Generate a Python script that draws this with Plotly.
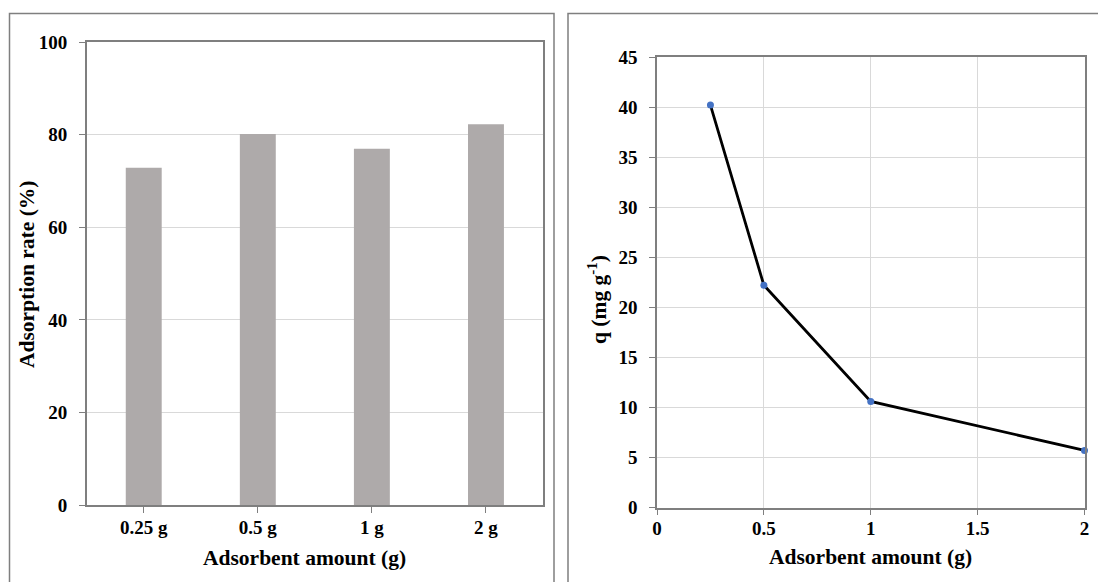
import plotly.graph_objects as go

# Adsorption rate per adsorbent dose (bar panel)
dose_labels = ["0.25 g", "0.5 g", "1 g", "2 g"]
adsorption_rate = [72.9, 80.2, 77.0, 82.3]

# Adsorption capacity q vs adsorbent amount (line panel)
amount_g = [0.25, 0.5, 1.0, 2.0]
q_mg_g = [40.2, 22.2, 10.6, 5.7]

W, H = 1098, 582
FONT = "Times New Roman, Liberation Serif, serif"
AXIS_COLOR = "#7f7f7f"
GRID_COLOR = "#d9d9d9"


def px(x):
    return x / W


def py(y):
    return 1 - y / H


fig = go.Figure()

fig.add_trace(go.Bar(
    x=dose_labels, y=adsorption_rate,
    marker=dict(color="#aeaaaa", line=dict(width=0)),
    xaxis="x", yaxis="y", showlegend=False,
))

fig.add_trace(go.Scatter(
    x=amount_g, y=q_mg_g, mode="lines+markers",
    line=dict(color="black", width=2.8),
    marker=dict(color="#4472c4", size=7),
    xaxis="x2", yaxis="y2", showlegend=False, cliponaxis=False,
))

tick_font = dict(family=FONT, size=19, color="black", weight="bold")
title_font = dict(family=FONT, size=21.5, color="black", weight="bold")

common_axis = dict(
    showline=True, linecolor=AXIS_COLOR, linewidth=1.5, mirror=True,
    ticks="outside", ticklen=6, tickcolor=AXIS_COLOR, tickwidth=1.2,
    tickfont=tick_font, zeroline=False, automargin=False,
)

fig.update_layout(
    template="none",
    width=W, height=H,
    margin=dict(l=0, r=0, t=0, b=0, pad=0, autoexpand=False),
    paper_bgcolor="white", plot_bgcolor="white",
    bargap=0.685,
    xaxis=dict(domain=[px(86.7), px(543)], anchor="y", type="category",
               showgrid=False, ticklabelstandoff=-2, **common_axis),
    yaxis=dict(domain=[py(505), py(42.3)], anchor="x", range=[0, 100],
               tickvals=[0, 20, 40, 60, 80, 100],
               showgrid=True, gridcolor=GRID_COLOR, gridwidth=1,
               ticklabelstandoff=8, **common_axis),
    xaxis2=dict(domain=[px(657), px(1084.5)], anchor="y2", range=[0, 2],
                tickvals=[0, 0.5, 1, 1.5, 2],
                showgrid=True, gridcolor=GRID_COLOR, gridwidth=1,
                ticklabelstandoff=-3, **common_axis),
    yaxis2=dict(domain=[py(507.5), py(57)], anchor="x2", range=[0, 45],
                tickvals=list(range(0, 50, 5)),
                showgrid=True, gridcolor=GRID_COLOR, gridwidth=1,
                ticklabelstandoff=8, **common_axis),
)

# Axis titles
fig.add_annotation(text="Adsorbent amount (g)", x=px(304), y=py(558),
                   xref="paper", yref="paper", showarrow=False,
                   font=title_font, xanchor="center", yanchor="middle")
fig.add_annotation(text="Adsorption rate (%)", x=px(27), y=py(274),
                   xref="paper", yref="paper", showarrow=False,
                   font=title_font, textangle=-90,
                   xanchor="center", yanchor="middle")
fig.add_annotation(text="Adsorbent amount (g)", x=px(870), y=py(557),
                   xref="paper", yref="paper", showarrow=False,
                   font=title_font, xanchor="center", yanchor="middle")
fig.add_annotation(text="q (mg g<sup>-1</sup>)", x=px(598), y=py(300),
                   xref="paper", yref="paper", showarrow=False,
                   font=title_font, textangle=-90,
                   xanchor="center", yanchor="middle")

# Panel frames
fig.add_shape(type="rect", xref="paper", yref="paper",
              x0=px(9.5), x1=px(554), y0=py(600), y1=py(13.5),
              line=dict(color=AXIS_COLOR, width=1.5), fillcolor="rgba(0,0,0,0)",
              layer="below")
fig.add_shape(type="rect", xref="paper", yref="paper",
              x0=px(568), x1=px(1110), y0=py(600), y1=py(13.5),
              line=dict(color=AXIS_COLOR, width=1.5), fillcolor="rgba(0,0,0,0)",
              layer="below")

# Page body has a default margin; remove it so the figure fills the window
fig.write_html("out.html", post_script="document.body.style.margin='0';")
